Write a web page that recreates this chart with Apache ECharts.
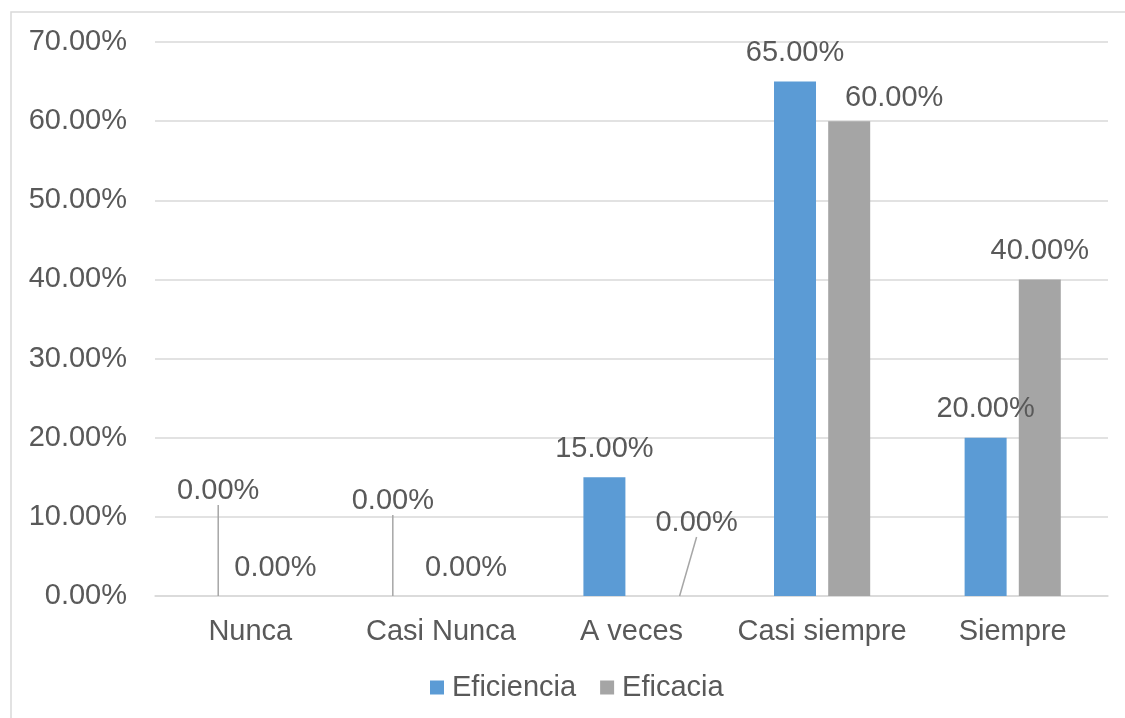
<!DOCTYPE html>
<html>
<head>
<meta charset="utf-8">
<script src="https://cdn.jsdelivr.net/npm/echarts@6/dist/echarts.min.js"></script>
<style>
    html, body { margin: 0; padding: 0; background: #fff; }
    #main { width: 1125px; height: 718px; }
</style>
</head>
<body>
<div id="main"></div>
<script>
var categories = ['Nunca', 'Casi Nunca', 'A veces', 'Casi siempre', 'Siempre'];
var eficiencia = [0, 0, 15, 65, 20];
var eficacia = [0, 0, 0, 60, 40];
var yTicks = [0, 10, 20, 30, 40, 50, 60, 70];

// label nudges (dx, dy) per series / category, like the hand-dragged labels in the original
var nudgeEficiencia = [[-5, -77], [-21, -67], [0, 0], [0, 0], [0, 0]];
var nudgeEficacia = [[-2, 0], [-2, 0], [38, -45], [45, 5], [0, 0]];

var font = 'Liberation Sans, Arial, sans-serif';
var txt = '#595959';

// leader line only where the label was pulled far away from its bar
function buildData(values, nudges) {
    return values.map(function (v, i) {
        var moved = Math.abs(nudges[i][1]) > 20;
        return {
            value: v,
            labelLine: { show: moved, lineStyle: { color: '#A6A6A6', width: 1.5 } }
        };
    });
}

function layoutFor(nudges) {
    return function (p) {
        var n = nudges[p.dataIndex];
        return { dx: n[0], dy: n[1] };
    };
}

var chart = echarts.init(document.getElementById('main'));
var labelCfg = {
    show: true,
    position: 'top',
    distance: 14,
    color: txt,
    fontSize: 29,
    fontFamily: font,
    formatter: function (p) { return p.value.toFixed(2) + '%'; }
};
var option = {
    animation: false,
    textStyle: { fontFamily: font },
    graphic: [{
        type: 'rect',
        shape: { x: 11, y: 12, width: 1140, height: 740 },
        style: { fill: 'none', stroke: '#D9D9D9', lineWidth: 1.5 },
        silent: true
    }],
    grid: { left: 155, right: 17, top: 42, bottom: 122 },
    legend: {
        bottom: 11,
        left: 425,
        itemWidth: 14,
        itemHeight: 14,
        itemGap: 24,
        icon: 'rect',
        textStyle: { color: txt, fontSize: 29, fontFamily: font, padding: [0, 0, 0, 3] },
        data: ['Eficiencia', 'Eficacia']
    },
    xAxis: {
        type: 'category',
        data: categories,
        axisLine: { lineStyle: { color: '#D9D9D9', width: 1.5 } },
        axisTick: { show: false },
        axisLabel: { interval: 0, color: txt, fontSize: 29, fontFamily: font, margin: 21 }
    },
    yAxis: {
        type: 'value',
        min: yTicks[0],
        max: yTicks[yTicks.length - 1],
        interval: 10,
        axisLine: { show: false },
        axisTick: { show: false },
        splitLine: { lineStyle: { color: '#D9D9D9', width: 1.5 } },
        axisLabel: {
            color: txt, fontSize: 29, fontFamily: font, margin: 28,
            formatter: function (v) { return v.toFixed(2) + '%'; }
        }
    },
    series: [{
        name: 'Eficiencia',
        type: 'bar',
        barWidth: 42,
        barGap: '29%',
        itemStyle: { color: '#5B9BD5' },
        label: labelCfg,
        labelLayout: layoutFor(nudgeEficiencia),
        data: buildData(eficiencia, nudgeEficiencia)
    }, {
        name: 'Eficacia',
        type: 'bar',
        barWidth: 42,
        itemStyle: { color: '#A5A5A5' },
        label: labelCfg,
        labelLayout: layoutFor(nudgeEficacia),
        data: buildData(eficacia, nudgeEficacia)
    }]
};
chart.setOption(option);
</script>
</body>
</html>
